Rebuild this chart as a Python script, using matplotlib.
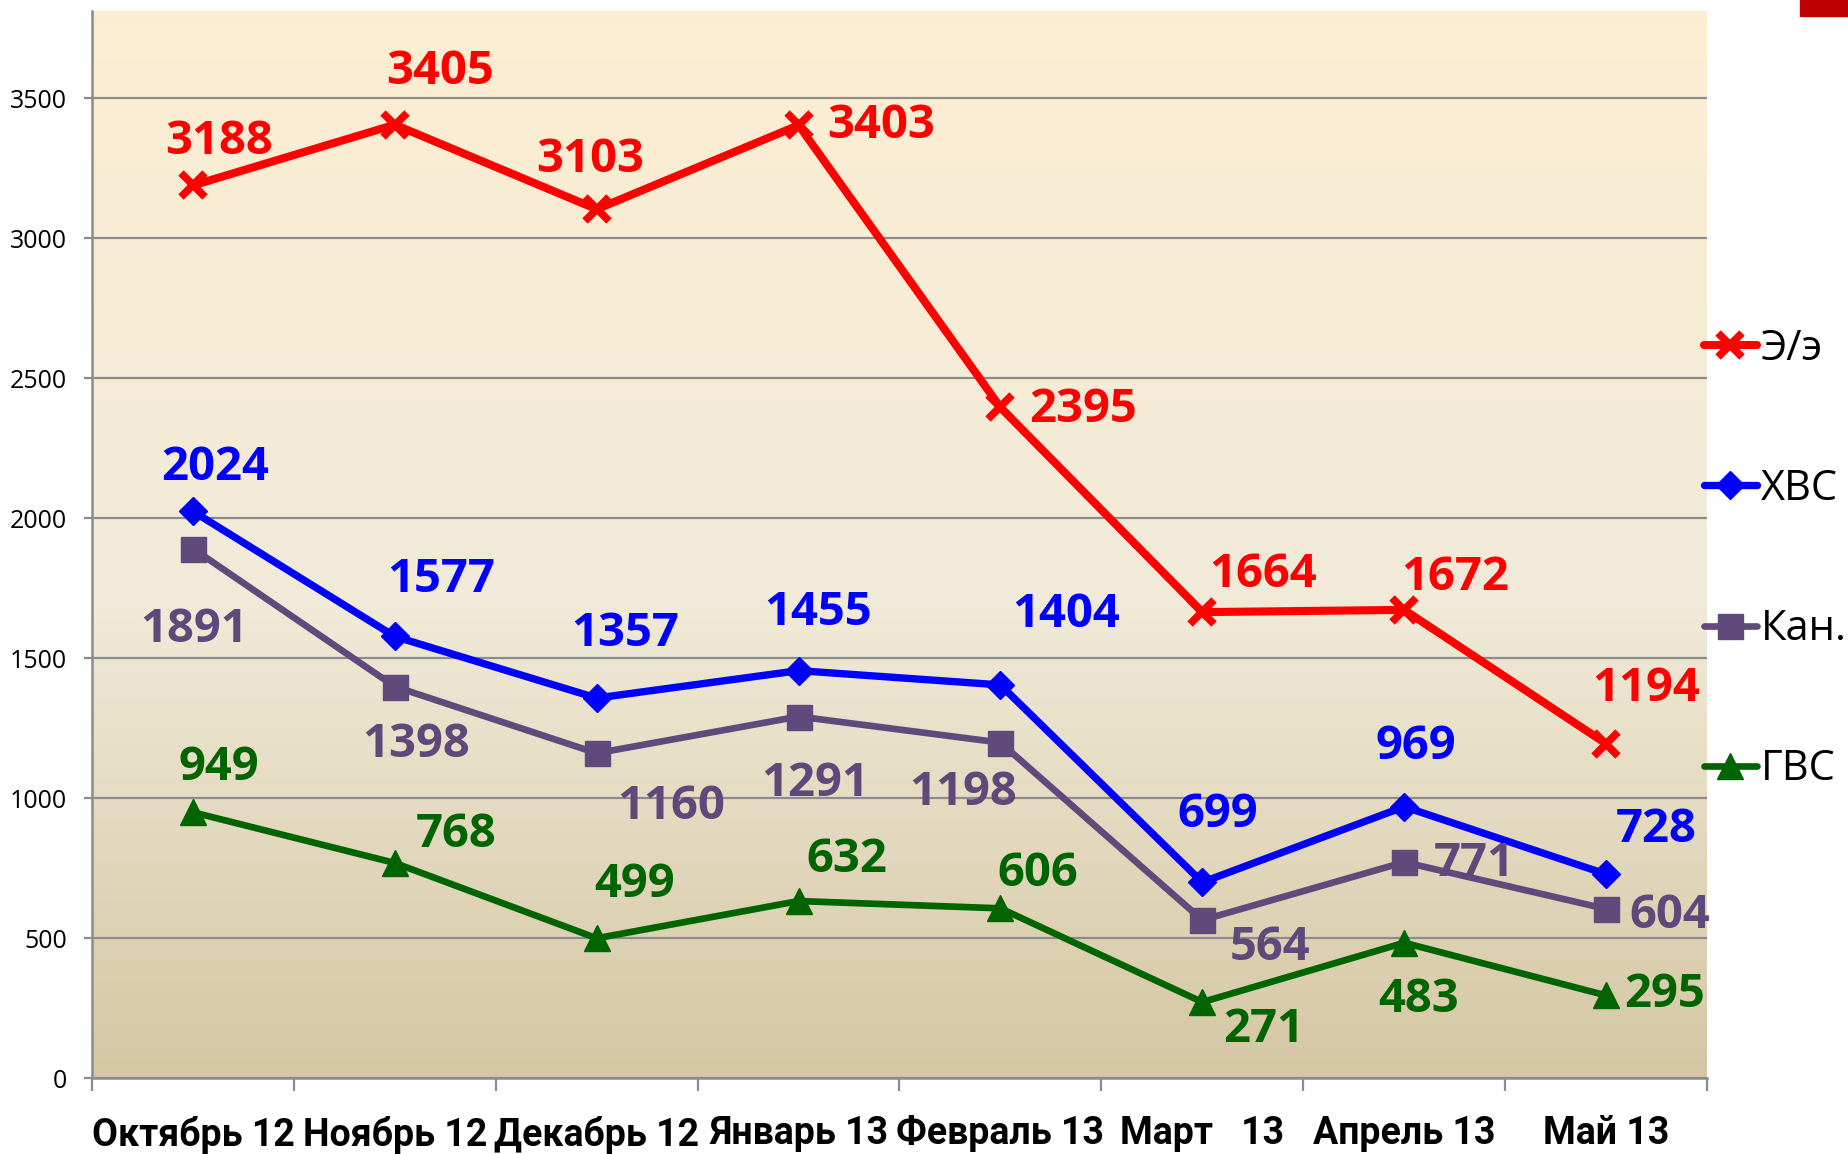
import numpy as np
import matplotlib
matplotlib.use("Agg")
import matplotlib.pyplot as plt
from matplotlib.patches import Rectangle

months = ["Октябрь 12", "Ноябрь 12", "Декабрь 12", "Январь 13",
          "Февраль 13", "Март   13", "Апрель 13", "Май 13"]

ee = [3188, 3405, 3103, 3403, 2395, 1664, 1672, 1194]
hvs = [2024, 1577, 1357, 1455, 1404, 699, 969, 728]
kan = [1891, 1398, 1160, 1291, 1198, 564, 771, 604]
gvs = [949, 768, 499, 632, 606, 271, 483, 295]

# label offsets in pixels (dx, dy), dy positive = up
off_ee = [(26, 44), (45, 53), (-6, 50), (83, 0), (83, -2), (61, 38), (51, 32), (40, 55)]
off_hvs = [(22, 44), (46, 57), (28, 65), (19, 58), (66, 70), (15, 68), (12, 60), (50, 45)]
off_kan = [(1, -81), (21, -58), (74, -53), (17, -67), (-37, -50), (68, -27), (70, -1), (64, -7)]
off_gvs = [(26, 45), (61, 28), (38, 54), (48, 42), (37, 35), (61, -27), (14, -57), (59, 1)]

W, H = 1849, 1154
fig = plt.figure(figsize=(W / 100, H / 100), dpi=100)
ax = fig.add_axes([92 / W, 1 - 1078 / H, (1707 - 92) / W, (1078 - 11) / H])

x = np.arange(len(months))

# background gradient of the plot area
stops = np.array([0.0, 0.45, 1.0])
cols = np.array([[0.835, 0.780, 0.643], [0.945, 0.920, 0.850], [0.992, 0.933, 0.827]])
t = np.linspace(0, 1, 256)
grad = np.stack([np.interp(t, stops, cols[:, i]) for i in range(3)], axis=1)[::-1]
ax.imshow(grad[:, None, :], extent=[0, 1, 0, 1], transform=ax.transAxes,
          aspect="auto", zorder=0, interpolation="bicubic")

ax.set_xlim(-0.5, len(months) - 0.5)
ax.set_ylim(0, 3811)
ax.set_yticks(np.arange(0, 3501, 500))
ax.yaxis.grid(True, color="#8c8c8c", linewidth=1.6, zorder=1)
ax.set_axisbelow(True)

series = [
    ("Э/э", ee, off_ee, "#ff0000", "#ff0000", dict(marker="x", markersize=17, markeredgewidth=5.5, linewidth=5.8)),
    ("ХВС", hvs, off_hvs, "#0000ff", "#0000ff", dict(marker="D", markersize=14, linewidth=5.3)),
    ("Кан.", kan, off_kan, "#604a7b", "#5f497a", dict(marker="s", markersize=18, linewidth=4.8)),
    ("ГВС", gvs, off_gvs, "#006400", "#006400", dict(marker="^", markersize=19, linewidth=4.8)),
]

for name, vals, offs, c, lc, kw in series:
    ax.plot(x, vals, color=c, label=name, zorder=3, solid_capstyle="round", **kw)
    for xi, v, (dx, dy) in zip(x, vals, offs):
        ax.annotate(str(v), (xi, v), xytext=(dx, dy), textcoords="offset pixels",
                    ha="center", va="center", color=lc, fontsize=34,
                    fontweight="bold", family="Open Sans", zorder=4)

for s in ["top", "right"]:
    ax.spines[s].set_visible(False)
for s in ["left", "bottom"]:
    ax.spines[s].set_color("#8c8c8c")
    ax.spines[s].set_linewidth(1.8)

ax.set_xticks(np.arange(-0.5, len(months), 1.0))
ax.set_xticklabels([])
ax.tick_params(axis="x", which="major", length=9.5, width=1.6, color="#8c8c8c")
ax.set_xticks(x, minor=True)
ax.set_xticklabels(months, minor=True, fontsize=27, fontweight="bold",
                   family="Roboto")
ax.tick_params(axis="x", which="minor", length=0, pad=27)
ax.tick_params(axis="y", length=6, width=1.6, color="#8c8c8c", pad=12, labelsize=18)
for lab in ax.get_yticklabels():
    lab.set_family("Open Sans")

leg = ax.legend(loc="center left", bbox_to_anchor=(1704 / W, 1 - 559 / H),
                bbox_transform=fig.transFigure, frameon=False,
                handlelength=1.27, handletextpad=0.1, borderpad=0,
                borderaxespad=0, labelspacing=2.36, numpoints=1,
                prop={"family": "Open Sans", "size": 30})

fig.patches.append(Rectangle((1800 / W, 1 - 16 / H), 49 / W, 16 / H,
                             transform=fig.transFigure, color="#c00000"))

fig.savefig("out.png", dpi=100)
